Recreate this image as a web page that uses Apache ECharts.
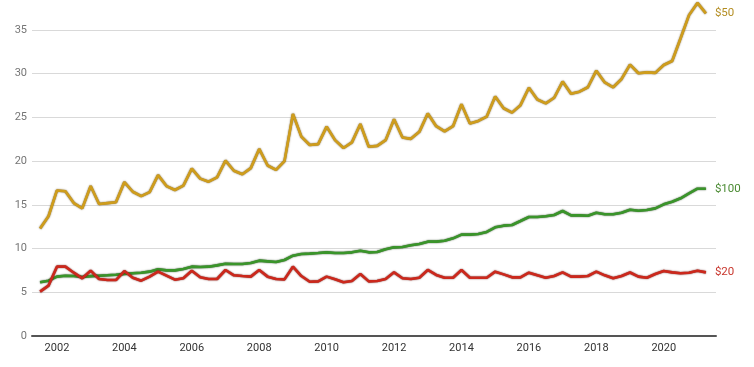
<!DOCTYPE html>
<html>
<head>
<meta charset="utf-8">
<script src="https://cdn.jsdelivr.net/npm/echarts@6/dist/echarts.min.js"></script>
<style>
  html, body { margin: 0; padding: 0; background: #fff; }
  #chart { width: 754px; height: 367px; }
</style>
</head>
<body>
<div id="chart"></div>
<script>
// Quarter-end periods: Jun 2001 .. Mar 2021 (80 quarters)
const periods = [];
for (let y = 2001; y <= 2021; y++) {
  for (const m of [3, 6, 9, 12]) {
    if ((y === 2001 && m < 6) || (y === 2021 && m > 3)) continue;
    periods.push(y + '-' + String(m).padStart(2, '0'));
  }
}

const xTickLabels = [2002, 2004, 2006, 2008, 2010, 2012, 2014, 2016, 2018, 2020];

const note50 = [
  12.3, 13.7, 16.65, 16.55, 15.2, 14.6, 17.15, 15.1, 15.2, 15.3,
  17.6, 16.5, 16.0, 16.45, 18.4, 17.15, 16.7, 17.2, 19.15, 18.0,
  17.65, 18.15, 20.05, 18.9, 18.5, 19.2, 21.4, 19.5, 19.0, 20.0,
  25.4, 22.8, 21.85, 21.95, 23.95, 22.4, 21.5, 22.15, 24.25, 21.65,
  21.75, 22.4, 24.8, 22.7, 22.55, 23.35, 25.45, 24.0, 23.4, 24.0,
  26.5, 24.3, 24.6, 25.1, 27.4, 26.05, 25.55, 26.4, 28.4, 27.05,
  26.6, 27.25, 29.1, 27.7, 27.95, 28.45, 30.35, 29.0, 28.45, 29.4,
  31.05, 30.05, 30.15, 30.1, 31.0, 31.45, 34.05, 36.7, 38.1, 36.9
];

const note100 = [
  6.14, 6.33, 6.79, 6.9, 6.86, 6.75, 6.85, 6.9, 6.94, 7.0,
  7.09, 7.17, 7.24, 7.36, 7.63, 7.51, 7.51, 7.66, 7.93, 7.89,
  7.93, 8.08, 8.27, 8.24, 8.24, 8.35, 8.62, 8.54, 8.46, 8.69,
  9.19, 9.38, 9.42, 9.49, 9.57, 9.49, 9.49, 9.57, 9.76, 9.57,
  9.61, 9.93, 10.14, 10.18, 10.37, 10.52, 10.79, 10.79, 10.9, 11.17,
  11.59, 11.59, 11.67, 11.9, 12.43, 12.62, 12.7, 13.15, 13.61, 13.61,
  13.69, 13.84, 14.3, 13.8, 13.8, 13.76, 14.1, 13.92, 13.92, 14.1,
  14.45, 14.33, 14.41, 14.6, 15.06, 15.36, 15.75, 16.32, 16.85, 16.85
];

const note20 = [
  5.07, 5.76, 7.93, 7.93, 7.24, 6.6, 7.47, 6.52, 6.4, 6.4,
  7.43, 6.67, 6.33, 6.79, 7.36, 6.9, 6.44, 6.6, 7.47, 6.71,
  6.52, 6.52, 7.55, 6.94, 6.86, 6.79, 7.55, 6.79, 6.52, 6.48,
  7.93, 6.86, 6.21, 6.25, 6.79, 6.48, 6.14, 6.29, 7.09, 6.25,
  6.29, 6.52, 7.28, 6.6, 6.52, 6.67, 7.55, 6.98, 6.67, 6.67,
  7.55, 6.67, 6.67, 6.67, 7.36, 7.05, 6.71, 6.71, 7.24, 6.94,
  6.67, 6.86, 7.28, 6.79, 6.79, 6.86, 7.36, 6.94, 6.6, 6.86,
  7.26, 6.79, 6.67, 7.09, 7.43, 7.28, 7.17, 7.24, 7.47, 7.28
];

function toYear(p) {
  const [y, m] = p.split('-').map(Number);
  return y + m / 12;
}
function pairs(vals) {
  return vals.map((v, i) => [toYear(periods[i]), v]);
}

const seriesDefs = [
  { name: '$50', data: note50, color: '#cf9d1c', edge: 'rgba(90,62,0,0.9)', label: '#b38d22' },
  { name: '$100', data: note100, color: '#3a952a', edge: 'rgba(15,50,8,0.9)', label: '#4a8a32' },
  { name: '$20', data: note20, color: '#cc281c', edge: 'rgba(90,8,4,0.9)', label: '#c8362d' }
];

const chart = echarts.init(document.getElementById('chart'), null, { renderer: 'canvas' });
chart.setOption({
  animation: false,
  backgroundColor: '#ffffff',
  textStyle: { fontFamily: 'Roboto, "Noto Sans", sans-serif' },
  grid: { left: 32, right: 38, top: 30, bottom: 31, containLabel: false },
  xAxis: {
    type: 'value',
    min: 2001.26,
    max: 2021.55,
    axisLine: { show: true, lineStyle: { color: '#555', width: 2 } },
    axisTick: { show: false },
    splitLine: { show: false },
    axisLabel: {
      customValues: xTickLabels,
      formatter: v => String(Math.round(v)),
      color: '#333',
      fontSize: 11,
      margin: 7,
      fontFamily: 'Roboto'
    }
  },
  yAxis: {
    type: 'value',
    min: 0,
    max: 35,
    interval: 5,
    axisLine: { show: false },
    axisTick: { show: false },
    splitLine: { lineStyle: { color: '#d9d9d9', width: 1 } },
    axisLabel: { color: '#757575', fontSize: 11, margin: 5, fontFamily: 'Roboto' }
  },
  series: seriesDefs.map(s => ({
    name: s.name,
    type: 'line',
    data: pairs(s.data),
    clip: false,
    showSymbol: false,
    symbol: 'none',
    lineStyle: {
      color: s.color,
      width: 2.6,
      shadowColor: s.edge,
      shadowBlur: 1.5
    },
    itemStyle: { color: s.color },
    endLabel: {
      show: true,
      formatter: s.name,
      color: s.label,
      fontSize: 11.5,
      distance: 9,
      fontFamily: 'Roboto'
    }
  }))
});
</script>
</body>
</html>
